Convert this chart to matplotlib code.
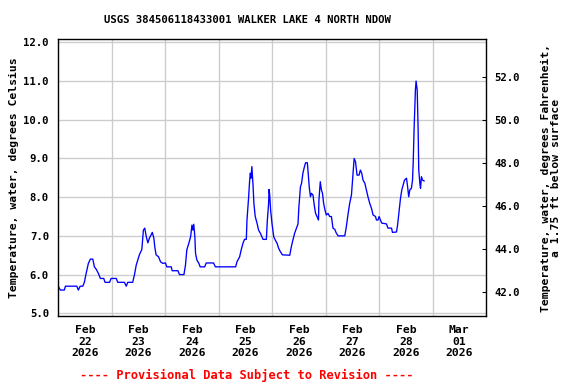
import numpy as np
import pandas as pd
import matplotlib
matplotlib.use("Agg")
import matplotlib.pyplot as plt
import matplotlib.dates as mdates
from matplotlib.ticker import FuncFormatter, FixedLocator

# hours after 2026-02-22 00:00 and water temperature (deg C)
hours = [0, 0.9, 2.7, 3.2, 8.3, 9.0, 9.8, 11.0, 11.7, 12.5, 13.5, 14.4, 15.5, 16.2, 17.0, 18.0,
         18.9, 20.4, 21.0, 23.0, 23.7, 26.0, 26.7, 29.7, 30.5, 31.2, 33.4, 34.2, 35.0, 35.7, 36.4,
         37.5, 38.2, 38.8, 39.5, 40.2, 40.9, 42.2, 42.9, 43.3, 43.9, 45.0, 45.9, 46.9, 48.1, 48.7,
         50.7, 51.1, 53.7, 54.4, 56.4, 57.1, 57.7, 58.6, 59.4, 60.0, 60.4, 60.8, 61.3, 61.6, 62.2,
         63.1, 63.7, 65.7, 66.4, 69.7, 70.5, 79.6, 80.2, 81.4, 82.1, 82.9, 83.6, 84.4, 84.7, 85.4,
         85.9, 86.2, 86.5, 86.9, 87.4, 87.8, 88.4, 89.2, 89.9, 90.7, 91.4, 91.9, 93.4, 93.8, 94.4,
         94.6, 94.9, 95.3, 95.9, 96.7, 97.4, 98.2, 98.9, 99.7, 100.6, 103.9, 104.6, 105.3, 106.1,
         106.9, 107.6, 108.0, 108.7, 109.2, 109.8, 110.5, 111.0, 111.8, 112.3, 112.7, 113.2, 113.6,
         114.3, 115.0, 115.5, 116.1, 116.8, 117.0, 117.6, 118.1, 118.6, 119.1, 119.7, 120.3, 121.1,
         121.8, 122.6, 123.3, 124.1, 124.8, 125.6, 128.6, 129.3, 130.1, 130.8, 131.6, 132.3, 132.8,
         133.4, 134.1, 135.0, 135.6, 136.2, 136.8, 137.6, 138.3, 139.0, 139.8, 140.6, 141.3, 142.4,
         142.8, 143.5, 144.0, 144.6, 145.2, 147.3, 148.0, 149.6, 150.0, 151.8, 152.3, 152.8, 153.6,
         154.2, 154.8, 155.4, 156.3, 156.8, 157.3, 157.8, 158.5, 159.0, 159.3, 159.7, 160.3, 160.6,
         161.1, 161.5, 161.8, 162.3, 162.6, 163.0, 163.5, 164.2]
temps = [5.7, 5.6, 5.6, 5.7, 5.7, 5.6, 5.7, 5.7, 5.8, 6.03, 6.29, 6.4, 6.4, 6.2, 6.14, 6.03,
         5.9, 5.9, 5.8, 5.8, 5.9, 5.9, 5.8, 5.8, 5.7, 5.8, 5.8, 6.0, 6.25, 6.38, 6.51,
         6.65, 7.15, 7.2, 6.98, 6.82, 6.94, 7.09, 6.94, 6.72, 6.51, 6.46, 6.33, 6.29, 6.3, 6.2,
         6.2, 6.1, 6.1, 6.0, 6.0, 6.25, 6.64, 6.81, 6.98, 7.28, 7.15, 7.3, 6.98, 6.55, 6.38,
         6.29, 6.2, 6.2, 6.3, 6.3, 6.2, 6.2, 6.33, 6.46, 6.64, 6.81, 6.91, 6.91, 7.41, 7.97,
         8.44, 8.62, 8.49, 8.79, 8.32, 7.84, 7.5, 7.33, 7.15, 7.07, 6.98, 6.91, 6.91, 7.37, 7.84,
         8.2, 8.06, 7.67, 7.33, 6.98, 6.89, 6.81, 6.68, 6.59, 6.51, 6.5, 6.72, 6.89, 7.07,
         7.2, 7.31, 7.75, 8.27, 8.36, 8.62, 8.79, 8.89, 8.89, 8.53, 8.23, 8.01, 8.1,
         8.06, 7.75, 7.58, 7.5, 7.41, 7.93, 8.4, 8.19, 8.1, 7.84, 7.67, 7.54, 7.58,
         7.5, 7.5, 7.2, 7.17, 7.07, 7.0, 7.0, 7.24, 7.58, 7.84, 8.06, 8.62, 9.0,
         8.92, 8.57, 8.57, 8.7, 8.62, 8.44, 8.36, 8.19, 8.01, 7.84, 7.71, 7.54, 7.5,
         7.41, 7.41, 7.5, 7.41, 7.33, 7.31, 7.2, 7.2, 7.09, 7.1, 7.28, 7.54, 7.97,
         8.19, 8.32, 8.44, 8.49, 8.27, 8.01, 8.19, 8.23, 8.44, 8.88, 9.74, 10.77, 11.0,
         10.77, 9.82, 8.7, 8.36, 8.23, 8.53, 8.44, 8.42]

start = pd.Timestamp("2026-02-22")
times = start + pd.to_timedelta(hours, unit="h")

day_labels = ["Feb\n22\n2026", "Feb\n23\n2026", "Feb\n24\n2026", "Feb\n25\n2026",
              "Feb\n26\n2026", "Feb\n27\n2026", "Feb\n28\n2026", "Mar\n01\n2026"]
f_ticks = [42, 44, 46, 48, 50, 52]

plt.rcParams['font.family'] = ['DejaVu Sans Mono']
plt.rcParams['font.weight'] = 'bold'
plt.rcParams['axes.labelweight'] = 'bold'

fig = plt.figure(figsize=(6, 4), dpi=96)
ax = fig.add_axes([0.1012, 0.1771, 0.7426, 0.7206])

ax.plot(times, temps, color="#0000ff", linewidth=1.0, zorder=3)

x0 = mdates.date2num(start)
ax.set_xlim(x0, x0 + 8)
ylo, yhi = 4.93, 12.08
ax.set_ylim(ylo, yhi)

# labels at noon, grid lines at midnight
ax.xaxis.set_major_locator(FixedLocator([x0 + i + 0.5 for i in range(8)]))
ax.set_xticklabels(day_labels, fontsize=8.5, linespacing=1.15, fontweight="bold")
ax.xaxis.set_minor_locator(FixedLocator([x0 + i for i in range(1, 8)]))
ax.tick_params(axis="x", which="both", length=0, pad=7)
ax.grid(True, which="minor", axis="x", color="#cccccc", linewidth=1)

ax.set_yticks(np.arange(5, 12.5, 1.0))
ax.yaxis.set_major_formatter(FuncFormatter(lambda v, p: "%.1f" % v))
ax.tick_params(axis="y", length=0, pad=7, labelsize=8)
ax.grid(True, which="major", axis="y", color="#cccccc", linewidth=1)
ax.set_ylabel("Temperature, water, degrees Celsius", fontsize=8.5, labelpad=3,
              fontweight="bold")

for s in ax.spines.values():
    s.set_linewidth(1.0)

ax2 = ax.twinx()
ax2.set_ylim(ylo * 1.8 + 32, yhi * 1.8 + 32)
ax2.set_yticks(f_ticks)
ax2.yaxis.set_major_formatter(FuncFormatter(lambda v, p: "%.1f" % v))
ax2.tick_params(axis="y", direction="in", length=3, pad=6, labelsize=8)
ax2.set_ylabel("Temperature, water, degrees Fahrenheit,\na 1.75 ft below surface",
               fontsize=8.5, rotation=90, labelpad=16, multialignment="center",
               linespacing=1.0, fontweight="bold")

fig.text(0.429, 0.948, "USGS 384506118433001 WALKER LAKE 4 NORTH NDOW",
         ha="center", va="center", fontsize=8, fontweight="bold")
fig.text(0.428, 0.021, "---- Provisional Data Subject to Revision ----",
         ha="center", va="center", fontsize=9, color="red", fontweight="bold")

fig.savefig("out.png", dpi=96)
